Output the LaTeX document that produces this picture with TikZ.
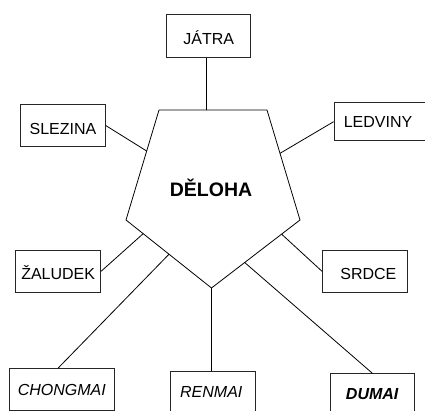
\documentclass[tikz,border=0pt]{standalone}
\usepackage{fontspec}
\setmainfont{Liberation Sans}
\usetikzlibrary{calc}
\begin{document}
\begin{tikzpicture}[x=1pt,y=-1pt,
  box/.style={draw=black!85,line width=0.8pt,inner sep=0pt,font=\fontsize{16}{19}\selectfont},
  lower/.style={text height=#1,text depth=0pt},
  conn/.style={draw=black,line width=0.8pt}]
\useasboundingbox (0,0) rectangle (425,410);
\clip (0,0) rectangle (425,410);
\fill[white] (0,0) rectangle (425,410);
% pentagon
\coordinate (A) at (159,110);
\coordinate (B) at (267,110);
\coordinate (C) at (300,220);
\coordinate (D) at (211.5,288);
\coordinate (E) at (126,220);
\draw[conn] (A) -- (B) -- (C) -- (D) -- (E) -- cycle;
\node[font=\fontsize{19.5}{23}\selectfont\bfseries] (deloha) at (211,188) {DĚLOHA};
% boxes
\node[box,lower=18pt,minimum width=84pt,minimum height=43pt] (jatra) at (208.7,35.8) {JÁTRA};
\node[box,lower=17.5pt,minimum width=84.6pt,minimum height=42pt] (slezina) at (63,125.5) {SLEZINA};
\node[box,minimum width=94pt,minimum height=38pt] (ledviny) at (381,121.7) {\hspace*{-6pt}LEDVINY};
\node[box,lower=15.5pt,minimum width=85pt,minimum height=42.7pt] (zaludek) at (58.2,271.3) {ŽALUDEK};
\node[box,lower=15.5pt,minimum width=85pt,minimum height=42.7pt] (srdce) at (364.9,271.3) {\hspace*{7pt}SRDCE};
\node[box,minimum width=105pt,minimum height=42.4pt,font=\fontsize{16}{19}\selectfont\itshape] (chongmai) at (61.8,389.5) {CHONGMAI};
\node[box,minimum width=84.3pt,minimum height=42pt,font=\fontsize{16}{19}\selectfont\itshape] (renmai) at (212.8,392) {\hspace*{-3pt}RENMAI};
\node[box,minimum width=84.3pt,minimum height=42pt,font=\fontsize{16}{19}\selectfont\itshape\bfseries] (dumai) at (372.2,394.5) {DUMAI};
% attachment points on pentagon
\coordinate (pt) at ($(A)!0.44!(B)$);
\coordinate (pl) at ($(A)!0.373!(E)$);
\coordinate (pr) at ($(B)!0.394!(C)$);
\coordinate (pz) at ($(E)!0.201!(D)$);
\coordinate (pc) at ($(E)!0.503!(D)$);
\coordinate (ps) at ($(C)!0.208!(D)$);
\coordinate (pd) at ($(C)!0.625!(D)$);
% connectors
\draw[conn] (pt) -- (pt |- jatra.south);
\draw[conn] (slezina.east) -- (pl);
\draw[conn] (ledviny.west) -- (pr);
\draw[conn] (zaludek.east) -- (pz);
\draw[conn] (srdce.west) -- (ps);
\draw[conn] ($(chongmai.north west)!0.467!(chongmai.north east)$) -- (pc);
\draw[conn] (D) -- (D |- renmai.north);
\draw[conn] (dumai.north) -- (pd);
\end{tikzpicture}
\end{document}
